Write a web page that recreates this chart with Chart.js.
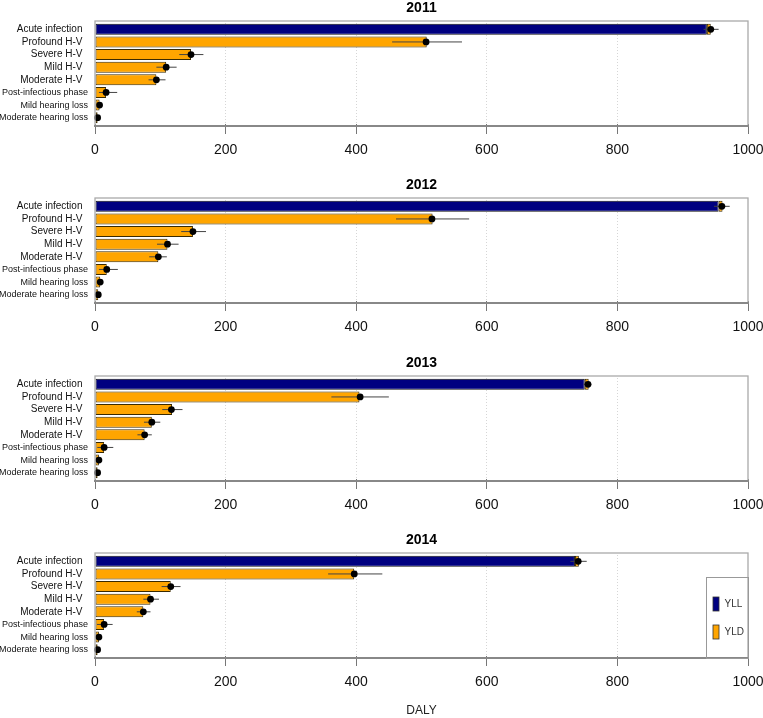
<!DOCTYPE html>
<html><head><meta charset="utf-8">
<script src="https://cdn.jsdelivr.net/npm/chart.js@4.4.1/dist/chart.umd.min.js"></script>
<style>
html,body{margin:0;padding:0;background:#fff;}
body{width:763px;height:718px;position:relative;overflow:hidden;}
canvas{position:absolute;left:0;}
</style></head><body>
<canvas id="c0" width="763" height="177" style="top:0px"></canvas>
<canvas id="c1" width="763" height="177" style="top:177px"></canvas>
<canvas id="c2" width="763" height="177" style="top:355px"></canvas>
<canvas id="c3" width="763" height="186" style="top:532px"></canvas>
<script>
// ---------- data ----------
const categories = ['Acute infection','Profound H-V','Severe H-V','Mild H-V','Moderate H-V','Post-infectious phase','Mild hearing loss','Moderate hearing loss'];
const years = ['2011','2012','2013','2014'];
const xTicks = [0,200,400,600,800,1000];
const seriesNames = ['YLL','YLD'];
const xTitle = 'DALY';

const yll2011  = [937,0,0,0,0,0,0,0];
const yld2011  = [6,508,147,109,94,17,7,4];
const mean2011 = [943,507,147,109,94,17,7,4];
const low2011  = [932,455,129,94,82,6,5,2];
const high2011 = [955,562,166,125,108,34,10,5];

const yll2012  = [955,0,0,0,0,0,0,0];
const yld2012  = [6,517,150,111,97,18,8,5];
const mean2012 = [960,516,150,111,97,18,8,5];
const low2012  = [948,461,132,95,83,6,6,3];
const high2012 = [972,573,170,128,110,35,10,6];

const yll2013  = [750,0,0,0,0,0,0,0];
const yld2013  = [6,405,118,87,76,14,6,4];
const mean2013 = [755,406,117,87,76,14,6,4];
const low2013  = [748,362,103,75,65,3.5,4,2];
const high2013 = [760,450,134,100,87,28,8,5];

const yll2014  = [735,0,0,0,0,0,0,0];
const yld2014  = [6,397,116,85,74,14,6,4];
const mean2014 = [740,397,116,85,74,14,6,4];
const low2014  = [728,357,102,74,64,3,4,2];
const high2014 = [753,440,131,98,85,27,8,5];

const panels = [
  [yll2011, yld2011, mean2011, low2011, high2011],
  [yll2012, yld2012, mean2012, low2012, high2012],
  [yll2013, yld2013, mean2013, low2013, high2013],
  [yll2014, yld2014, mean2014, low2014, high2014]
];

// ---------- styles ----------
const FONT = 'Liberation Sans, Arial, Helvetica, sans-serif';
const NAVY = '#000080';
const ORANGE = '#FFA500';

function makePanel(idx) {
  const [yll, yld, mean, low, high] = panels[idx];
  const isLast = idx === panels.length - 1;
  const canvas = document.getElementById('c' + idx);
  const H = canvas.height;

  const extras = {
    id: 'extras' + idx,
    afterDatasetsDraw(chart) {
      const ctx = chart.ctx, xs = chart.scales.x, ys = chart.scales.y;
      ctx.save();
      ctx.strokeStyle = '#444';
      ctx.lineWidth = 1;
      for (let i = 0; i < categories.length; i++) {
        const y = ys.getPixelForValue(i);
        ctx.beginPath();
        ctx.moveTo(xs.getPixelForValue(low[i]), y);
        ctx.lineTo(xs.getPixelForValue(high[i]), y);
        ctx.stroke();
      }
      ctx.fillStyle = '#000';
      for (let i = 0; i < categories.length; i++) {
        const y = ys.getPixelForValue(i);
        ctx.beginPath();
        ctx.arc(xs.getPixelForValue(mean[i]), y, 3.4, 0, Math.PI * 2);
        ctx.fill();
      }
      ctx.restore();
    },
    afterDraw(chart) {
      const ctx = chart.ctx, ca = chart.chartArea;
      ctx.save();
      const top = ca.top - 2, bottom = ca.bottom + 2;
      ctx.strokeStyle = '#aaa';
      ctx.lineWidth = 1.3;
      ctx.strokeRect(ca.left, top, ca.right - ca.left, bottom - top);
      ctx.strokeStyle = '#888';
      ctx.lineWidth = 2;
      ctx.beginPath();
      ctx.moveTo(ca.left - 1, bottom);
      ctx.lineTo(ca.right + 1, bottom);
      ctx.stroke();
      if (isLast) {
        const right = ca.right, left = right - 42, ltop = 45;
        ctx.strokeStyle = '#999';
        ctx.lineWidth = 1;
        ctx.strokeRect(left + 0.5, ltop + 0.5, right - left, bottom - ltop);
        chart.data.datasets.forEach((ds, i) => {
          ctx.fillStyle = ds.backgroundColor;
          ctx.fillRect(left + 7, ltop + 20 + i * 28, 6, 14);
          ctx.strokeStyle = '#333';
          ctx.lineWidth = 0.8;
          ctx.strokeRect(left + 7, ltop + 20 + i * 28, 6, 14);
          ctx.fillStyle = '#333';
          ctx.font = '10px ' + FONT;
          ctx.textBaseline = 'middle';
          ctx.textAlign = 'left';
          ctx.fillText(ds.label, left + 18.5, ltop + 27.5 + i * 28);
        });
      }
      ctx.restore();
    }
  };

  return new Chart(canvas, {
    type: 'bar',
    data: {
      labels: categories,
      datasets: [
        { label: seriesNames[0], data: yll, backgroundColor: NAVY, borderColor: '#111', borderWidth: 1,
          borderSkipped: false, barPercentage: 0.87, categoryPercentage: 1 },
        { label: seriesNames[1], data: yld, backgroundColor: ORANGE, borderColor: '#3a2a00', borderWidth: 1,
          borderSkipped: false, barPercentage: 0.87, categoryPercentage: 1 }
      ]
    },
    options: {
      indexAxis: 'y',
      responsive: false,
      animation: false,
      devicePixelRatio: 1,
      layout: { padding: { left: 0, right: 15, top: 0, bottom: 0 } },
      plugins: {
        legend: { display: false },
        tooltip: { enabled: false },
        title: {
          display: true, text: years[idx], fullSize: false, color: '#000',
          font: { family: FONT, size: 14, weight: 'bold' },
          padding: { top: 0, bottom: 6.2 }
        }
      },
      scales: {
        x: {
          type: 'linear', stacked: true, min: xTicks[0], max: xTicks[xTicks.length - 1],
          afterBuildTicks: s => { s.ticks = xTicks.map(v => ({ value: v })); },
          afterFit: s => { s.height = H - 124; s.paddingLeft = 0; s.paddingRight = 0; },
          ticks: { font: { family: FONT, size: 14 }, color: '#111', padding: 8, maxRotation: 0, autoSkip: false,
                   callback: v => String(v) },
          grid: {
            color: c => (c.tick && (c.tick.value === xTicks[0] || c.tick.value === xTicks[xTicks.length - 1])) ? 'rgba(0,0,0,0)' : '#d6d6d6',
            lineWidth: 1, tickLength: 10, tickColor: '#777', tickWidth: 1, tickBorderDash: []
          },
          border: { display: false, dash: [1, 2] },
          title: isLast ? { display: true, text: xTitle, color: '#222', font: { family: FONT, size: 12 }, padding: { top: 0, bottom: 0 } } : { display: false }
        },
        y: {
          type: 'category', stacked: true,
          afterFit: s => { s.width = 95; },
          grid: { display: false, drawTicks: false, tickLength: 0 },
          border: { display: false },
          ticks: {
            autoSkip: false, padding: 7, color: '#111',
            font: c => ({ family: FONT, size: c.index < 5 ? 10 : 9 }),
            callback: (v, i) => i < 5 ? categories[i] + '  ' : categories[i]
          }
        }
      }
    },
    plugins: [extras]
  });
}

years.forEach((y, i) => makePanel(i));
</script>
</body></html>
